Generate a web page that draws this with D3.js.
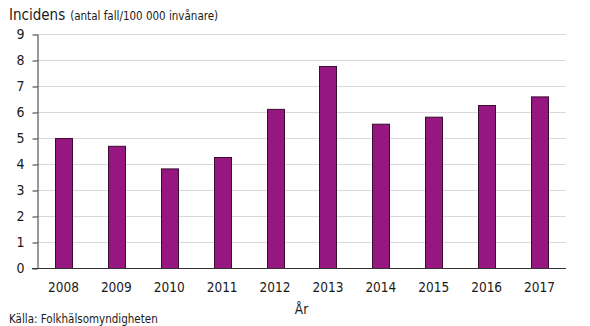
<!DOCTYPE html>
<html lang="sv">
<head>
<meta charset="UTF-8">
<title>Incidens per år</title>
<script src="https://d3js.org/d3.v7.min.js"></script>
<style>
  body { margin: 0; background: #fff; }
  text { font-family: "DejaVu Sans Condensed", "DejaVu Sans", sans-serif; fill: #1a1a1a; }
</style>
</head>
<body>
<div id="chart"></div>
<script>
// årtal och incidens (antal fall per 100 000 invånare)
var years = ["2008", "2009", "2010", "2011", "2012", "2013", "2014", "2015", "2016", "2017"];
var incidence = [5.0, 4.7, 3.83, 4.27, 6.12, 7.77, 5.55, 5.82, 6.27, 6.6];
var yTicks = [0, 1, 2, 3, 4, 5, 6, 7, 8, 9];

var W = 590, H = 326;
var margin = {top: 34, right: 24, bottom: 58, left: 37};
var width = W - margin.left - margin.right,
    height = H - margin.top - margin.bottom;

var svg = d3.select("#chart").append("svg")
    .attr("width", W)
    .attr("height", H);

var g = svg.append("g")
    .attr("transform", "translate(" + margin.left + "," + margin.top + ")");

var x = d3.scaleBand()
    .domain(years)
    .range([0, width])
    .paddingInner(0.68)
    .paddingOuter(0.34);

var y = d3.scaleLinear()
    .domain([0, 9])
    .range([height, 0]);

// stödlinjer
g.append("g")
  .selectAll("line")
  .data(yTicks.filter(function(d) { return d > 0; }))
  .enter().append("line")
    .attr("x1", 0)
    .attr("x2", width)
    .attr("y1", function(d) { return y(d) + 0.5; })
    .attr("y2", function(d) { return y(d) + 0.5; })
    .style("stroke", "#d9d9d9")
    .style("stroke-width", 1);

// staplar
g.append("g")
  .selectAll("rect")
  .data(incidence)
  .enter().append("rect")
    .attr("x", function(d, i) { return Math.round(x(years[i])) + 0.5; })
    .attr("y", function(d) { return y(d) + 0.5; })
    .attr("width", Math.round(x.bandwidth()))
    .attr("height", function(d) { return height - y(d); })
    .style("fill", "#96177f")
    .style("stroke", "#3a0c31")
    .style("stroke-width", 1);

// y-axel
var yAxis = g.append("g")
    .attr("transform", "translate(0.5,0)")
    .call(d3.axisLeft(y).tickValues(yTicks).tickSize(5).tickSizeOuter(0).tickPadding(8));
yAxis.select(".domain").style("stroke", "#333");
yAxis.selectAll(".tick line").style("stroke", "#333").attr("transform", "translate(0,0.5)");
yAxis.selectAll(".tick text").style("font-size", "14px").style("fill", "#1a1a1a")
    .attr("font-family", null);

// x-axel
var xAxis = g.append("g")
    .attr("transform", "translate(0," + (height + 0.5) + ")")
    .call(d3.axisBottom(x).tickSize(0).tickPadding(14));
xAxis.select(".domain").attr("d", "M-5,0H" + width).style("stroke", "#333");
xAxis.selectAll(".tick text").style("font-size", "13.5px").style("fill", "#1a1a1a")
    .attr("font-family", null);

// rubrik
var title = svg.append("text")
    .attr("x", 9)
    .attr("y", 20);
title.append("tspan").style("font-size", "15px").text("Incidens");
title.append("tspan").style("font-size", "11.5px").attr("dx", 5).text("(antal fall/100 000 invånare)");

// axeltitel
svg.append("text")
    .attr("x", margin.left + width / 2)
    .attr("y", 314)
    .attr("text-anchor", "middle")
    .style("font-size", "13.5px")
    .text("År");

// källa
svg.append("text")
    .attr("x", 9)
    .attr("y", 323)
    .style("font-size", "11.5px")
    .text("Källa: Folkhälsomyndigheten");
</script>
</body>
</html>
